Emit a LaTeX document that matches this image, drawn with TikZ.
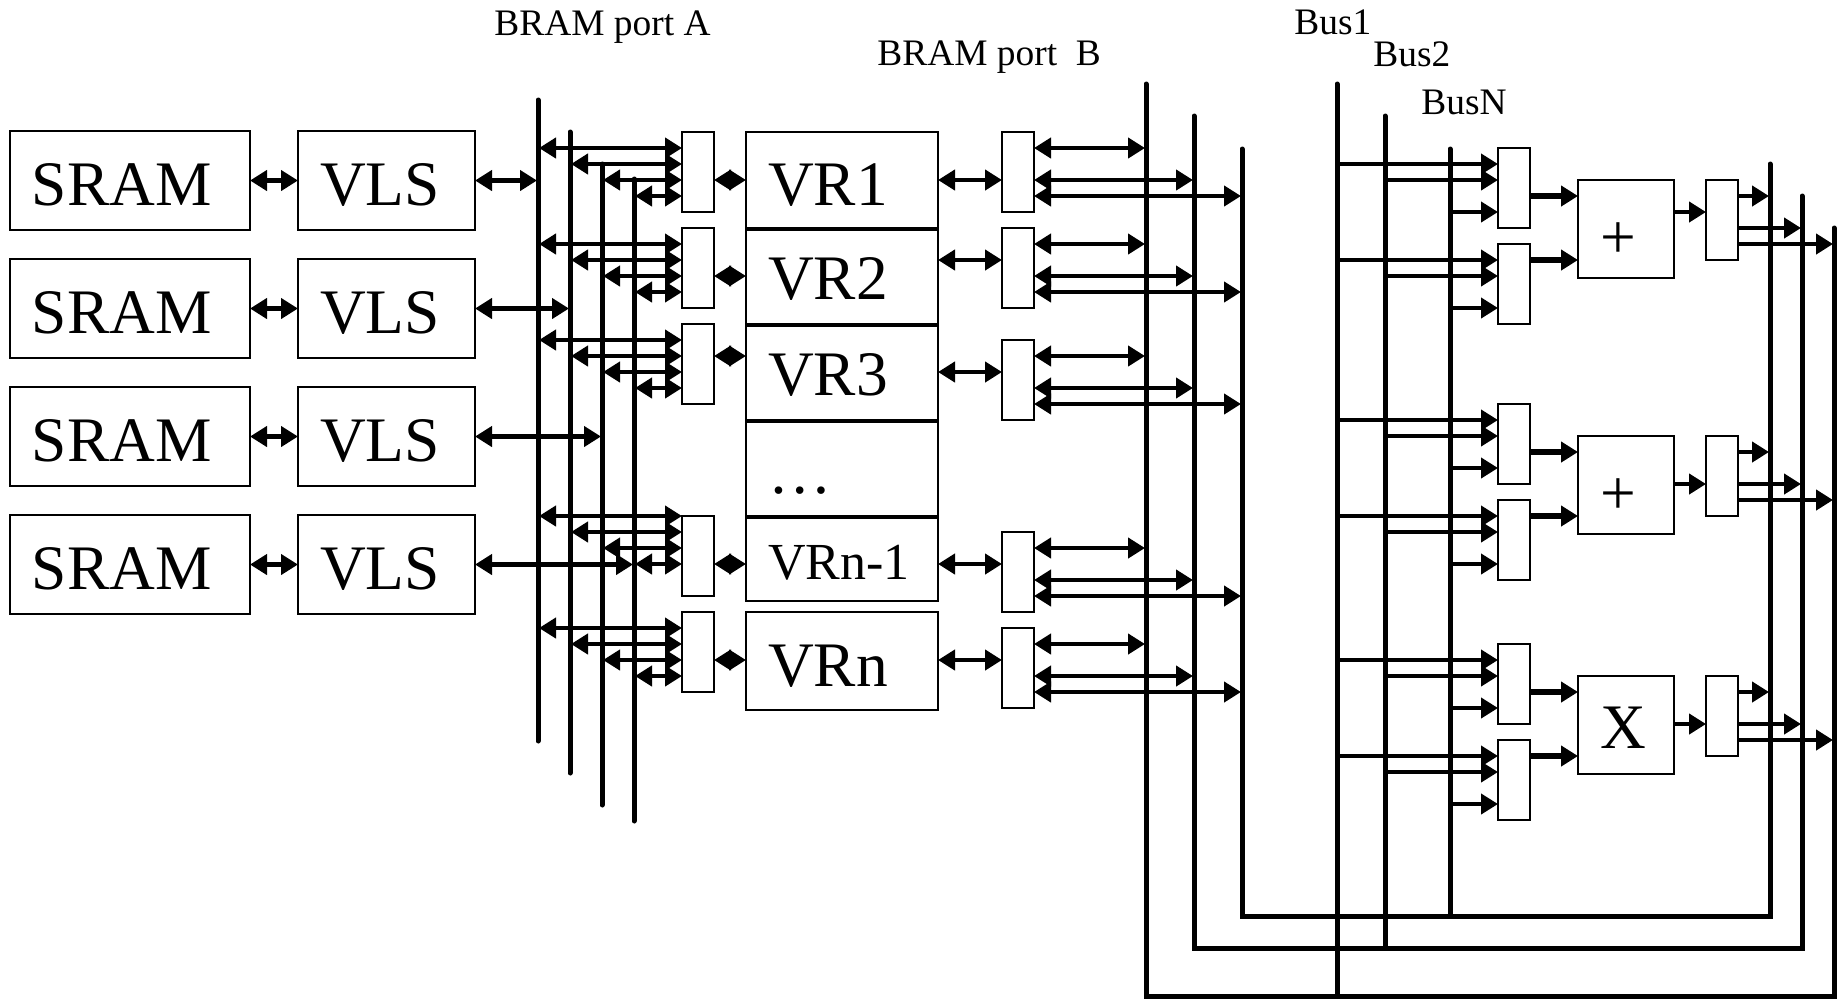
\documentclass[tikz,border=0pt]{standalone}
\usepackage{fontspec}
\setmainfont{Liberation Serif}
\usetikzlibrary{arrows.meta,calc}
\tikzset{>={Triangle[length=8.5pt,width=10pt]},
         busline/.style={line width=2.5pt,line cap=round},
         textbox/.style={draw,line width=1pt,anchor=north west,outer sep=0pt,
                         inner xsep=11pt,inner ysep=0pt,align=left,text depth=0pt,
                         font=\fontsize{31.7}{31.7}\selectfont},
         muxbox/.style={draw,line width=1pt,anchor=north west,outer sep=0pt,
                        minimum width=16pt,minimum height=40pt,inner sep=0pt},
         dbl/.style={<->,line width=2.1pt,shorten >=0.5pt},
         regarrow/.style={<->,line width=2.4pt},
         inarrow/.style={->,line width=2pt},
         thickarrow/.style={->,line width=3pt},
         outarrow/.style={->,line width=2.3pt,shorten >=0.5pt},
         title/.style={anchor=west,inner sep=0pt,font=\fontsize{18.7}{18.7}\selectfont}}

\begin{document}
\begin{tikzpicture}[x=0.5pt,y=-0.5pt]
  \useasboundingbox (0,0) rectangle (1839,998);

  % titles
  \node[title] (portA) at (494,27) {BRAM port A};
  \node[title] (portB) at (877,57) {BRAM port\ \ B};
  \node[title] (busI) at (1294,22) {Bus1};
  \node[title] (busII) at (1373,54) {Bus2};
  \node[title] (busN) at (1421,102) {BusN};

  % BRAM port A buses
  \foreach \n/\x/\top/\bot in {1/538/100/741,2/570/132/773,3/602/164/805,4/634/179/821}{
    \coordinate (busA\n) at (\x,\top);
    \coordinate (lowA\n) at (\x,\bot);
    \draw[busline] (busA\n) -- (lowA\n);
  }

  % BRAM port B buses, they come back round the bottom
  \foreach \n/\xb/\tb/\xc/\tc/\xr/\tr/\yl in {1/1146/84/1337/84/1834/228/996,
                                              2/1194/116/1385/116/1802/196/948,
                                              3/1242/149/1450/149/1770/164/916}{
    \coordinate (busB\n) at (\xb,\tb);
    \coordinate (busC\n) at (\xc,\tc);
    \coordinate (busR\n) at (\xr,\tr);
    \coordinate (low\n) at (\xc,\yl);
    \draw[busline] (busC\n) -- (low\n);
    \draw[busline,line join=miter] (busB\n) |- (low\n) -| (busR\n);
  }

  % memories
  \foreach \n/\y in {1/131,2/259,3/387,4/515}{
    \node[textbox,text width=98pt,minimum height=49.5pt,text height=25pt] (sram\n) at (10,\y) {SRAM};
    \node[textbox,text width=66.5pt,minimum height=49.5pt,text height=25pt] (vls\n) at (298,\y) {VLS};
    \draw[dbl,shorten >=0pt] (sram\n) -- (vls\n);
    \draw[dbl] (vls\n.east) -- (vls\n.east -| busA\n);
  }

  % vector registers
  \node[textbox,text width=74pt,minimum height=48pt,text height=25pt] (vr1) at (746,132) {VR1};
  \node[textbox,text width=74pt,minimum height=47pt,text height=22pt] (vr2) at (746,230) {VR2};
  \node[textbox,text width=74pt,minimum height=47pt,text height=22pt] (vr3) at (746,326) {VR3};
  \node[textbox,text width=74pt,minimum height=47pt,text height=24pt] (vr4) at (746,422) {…};
  \node[textbox,text width=74pt,minimum height=41.5pt,text height=19.5pt,font=\fontsize{26}{26}\selectfont] (vr5) at (746,518) {VRn-1};
  \node[textbox,text width=74pt,minimum height=49pt,text height=25pt] (vr6) at (746,612) {VRn};

  % port A side
  \foreach \n/\v/\y/\off/\dd in {1/1/132/16/48,2/2/228/16/48,3/3/324/16/32,4/5/516/0/48,5/6/612/16/48}{
    \node[muxbox] (mA\n) at (682,\y) {};
    \coordinate (p) at ($(mA\n.north east)+(0,\dd)$);
    \draw[regarrow] (p) -- (p -| vr\v.west);
    \foreach \i in {1,2,3,4}{
      \coordinate (p) at ($(mA\n.north west)+(0,{\off+16*(\i-1)})$);
      \draw[dbl] (p) -- (p -| busA\i);
    }
  }

  % port B side
  \foreach \n/\v/\y/\dd in {1/1/132/48,2/2/228/32,3/3/340/32,4/5/532/32,5/6/628/32}{
    \node[muxbox] (mB\n) at (1002,\y) {};
    \coordinate (p) at ($(mB\n.north west)+(0,\dd)$);
    \draw[regarrow] (p) -- (p -| vr\v.east);
    \foreach \i/\off in {1/16,2/48,3/64}{
      \coordinate (p) at ($(mB\n.north east)+(0,\off)$);
      \draw[dbl] (p) -- (p -| busB\i);
    }
  }

  % read side of the function units
  \foreach \n/\y in {1/148,2/244,3/404,4/500,5/644,6/740}{
    \node[muxbox] (mR\n) at (1498,\y) {};
    \foreach \i/\off in {1/16,2/32,3/64}{
      \coordinate (p) at ($(mR\n.north west)+(0,\off)$);
      \draw[inarrow] (p -| busC\i) -- (p);
    }
  }

  % function units
  \foreach \f/\y/\a/\b/\sym/\dd/\hh in {1/180/1/2/+/32/29.5,2/436/3/4/+/48/29.5,3/676/5/6/X/48/23}{
    \node[textbox,text width=26pt,minimum height=49pt,text height=\hh pt] (fu\f) at (1578,\y) {\sym};
    \node[muxbox] (mO\f) at (1706,\y) {};
    \coordinate (p) at ($(mR\a.north east)+(0,48)$);
    \draw[thickarrow] (p) -- (p -| fu\f.west);
    \coordinate (p) at ($(mR\b.north east)+(0,16)$);
    \draw[thickarrow] (p) -- (p -| fu\f.west);
    \coordinate (p) at ($(fu\f.north east)+(0,\dd)$);
    \draw[outarrow,shorten >=0pt] (p) -- (p -| mO\f.west);
    \foreach \i/\off in {3/16,2/48,1/64}{
      \coordinate (p) at ($(mO\f.north east)+(0,\off)$);
      \draw[outarrow] (p) -- (p -| busR\i);
    }
  }
\end{tikzpicture}
\end{document}
